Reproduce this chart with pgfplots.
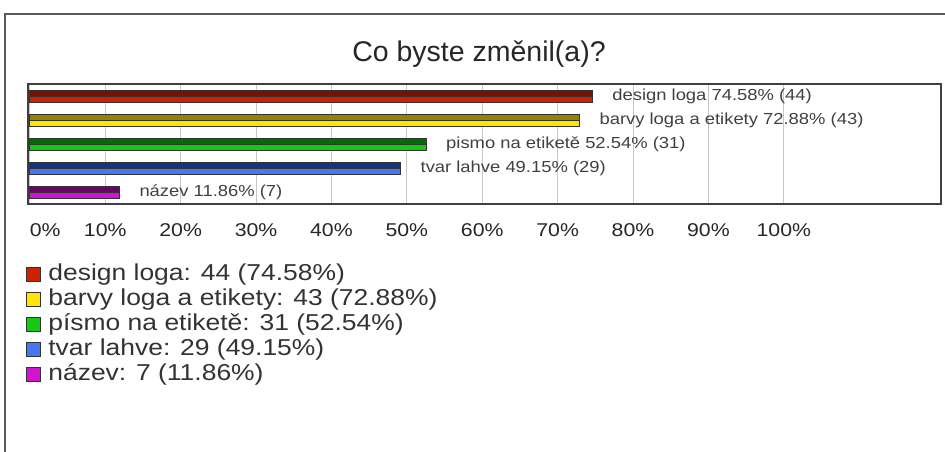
\documentclass[border=0pt]{standalone}
\usepackage{fontspec}
\setmainfont{Liberation Sans}
\newfontfamily\sfont{Liberation Sans}[FakeStretch=1.15]
\usepackage{pgfplots}
\pgfplotsset{compat=1.18}
\definecolor{redL}{RGB}{204,34,0}
\definecolor{redD}{RGB}{122,18,0}
\definecolor{yelL}{RGB}{255,230,0}
\definecolor{yelD}{RGB}{150,130,0}
\definecolor{grnL}{RGB}{20,200,20}
\definecolor{grnD}{RGB}{0,110,0}
\definecolor{bluL}{RGB}{70,120,240}
\definecolor{bluD}{RGB}{25,50,130}
\definecolor{purL}{RGB}{210,20,210}
\definecolor{purD}{RGB}{110,0,110}
\pgfplotsset{
  legsq/.style={legend image code/.code={\draw[##1, line width=1.2pt] (0pt,-5pt) rectangle (14pt,9pt);}},
  upbar/.style={xbar, bar width=0.25, bar shift=0.125, draw=black!80, line width=0.8pt, forget plot},
  lowbar/.style={xbar, bar width=0.25, bar shift=-0.125, draw=black!80, line width=0.8pt, legsq},
  lab/.style={draw=none, forget plot, nodes near coords={#1},
     every node near coord/.style={anchor=west, xshift=20pt, inner sep=0pt,
       font=\sfont\fontsize{16}{18}\selectfont, text=black!75}},
}
\begin{document}
\begin{tikzpicture}[x=1pt,y=1pt]
\path[use as bounding box] (0,0) rectangle (945,-452);
\draw[color=black!65, line width=1.5] (5,-452) -- (5,-14) -- (945,-14);
\node[font=\fontsize{28.5}{30}\selectfont, text=black!85] at (479,-54) {Co byste změnil(a)?};
\begin{axis}[
  at={(28pt,-84pt)}, anchor=north west,
  scale only axis, width=913pt, height=120pt,
  xmin=-0.25, xmax=120.85, ymin=-0.5, ymax=4.5,
  xtick={0,10,20,30,40,50,60,70,80,90,100},
  xticklabels={\rlap{0\%},10\%,20\%,30\%,40\%,50\%,60\%,70\%,80\%,90\%,100\%},
  ytick=\empty, major tick length=0pt,
  xmajorgrids, grid style={black!22, line width=1pt},
  axis line style={black!75, line width=1.3pt},
  xticklabel style={font=\sfont\fontsize{18.5}{20}\selectfont, text=black!85, inner sep=0pt, yshift=-19pt},
  legend style={at={(-0.0022,-0.496)}, anchor=north west, draw=none, fill=none,
     inner sep=0pt, row sep=-0.4pt, font=\sfont\fontsize{23}{25}\selectfont, text=black!80,
     nodes={inner sep=0pt, text height=17pt, text depth=8.4pt},
     /tikz/every odd column/.append style={column sep=7pt}},
  legend cell align=left,
]
\addplot[upbar, fill=redD] coordinates {(74.58,4)};
\addplot[lowbar, fill=redL] coordinates {(74.58,4)};
\addlegendentry{design loga: 44 (74.58\%)}
\addplot[upbar, fill=yelD] coordinates {(72.88,3)};
\addplot[lowbar, fill=yelL] coordinates {(72.88,3)};
\addlegendentry{barvy loga a etikety: 43 (72.88\%)}
\addplot[upbar, fill=grnD] coordinates {(52.54,2)};
\addplot[lowbar, fill=grnL] coordinates {(52.54,2)};
\addlegendentry{písmo na etiketě: 31 (52.54\%)}
\addplot[upbar, fill=bluD] coordinates {(49.15,1)};
\addplot[lowbar, fill=bluL] coordinates {(49.15,1)};
\addlegendentry{tvar lahve: 29 (49.15\%)}
\addplot[upbar, fill=purD] coordinates {(11.86,0)};
\addplot[lowbar, fill=purL] coordinates {(11.86,0)};
\addlegendentry{název: 7 (11.86\%)}
\addplot[lab={design loga 74.58\% (44)}] coordinates {(74.58,4)};
\addplot[lab={barvy loga a etikety 72.88\% (43)}] coordinates {(72.88,3)};
\addplot[lab={pismo na etiketě 52.54\% (31)}] coordinates {(52.54,2)};
\addplot[lab={tvar lahve 49.15\% (29)}] coordinates {(49.15,1)};
\addplot[lab={název 11.86\% (7)}] coordinates {(11.86,0)};
\end{axis}
\end{tikzpicture}
\end{document}
